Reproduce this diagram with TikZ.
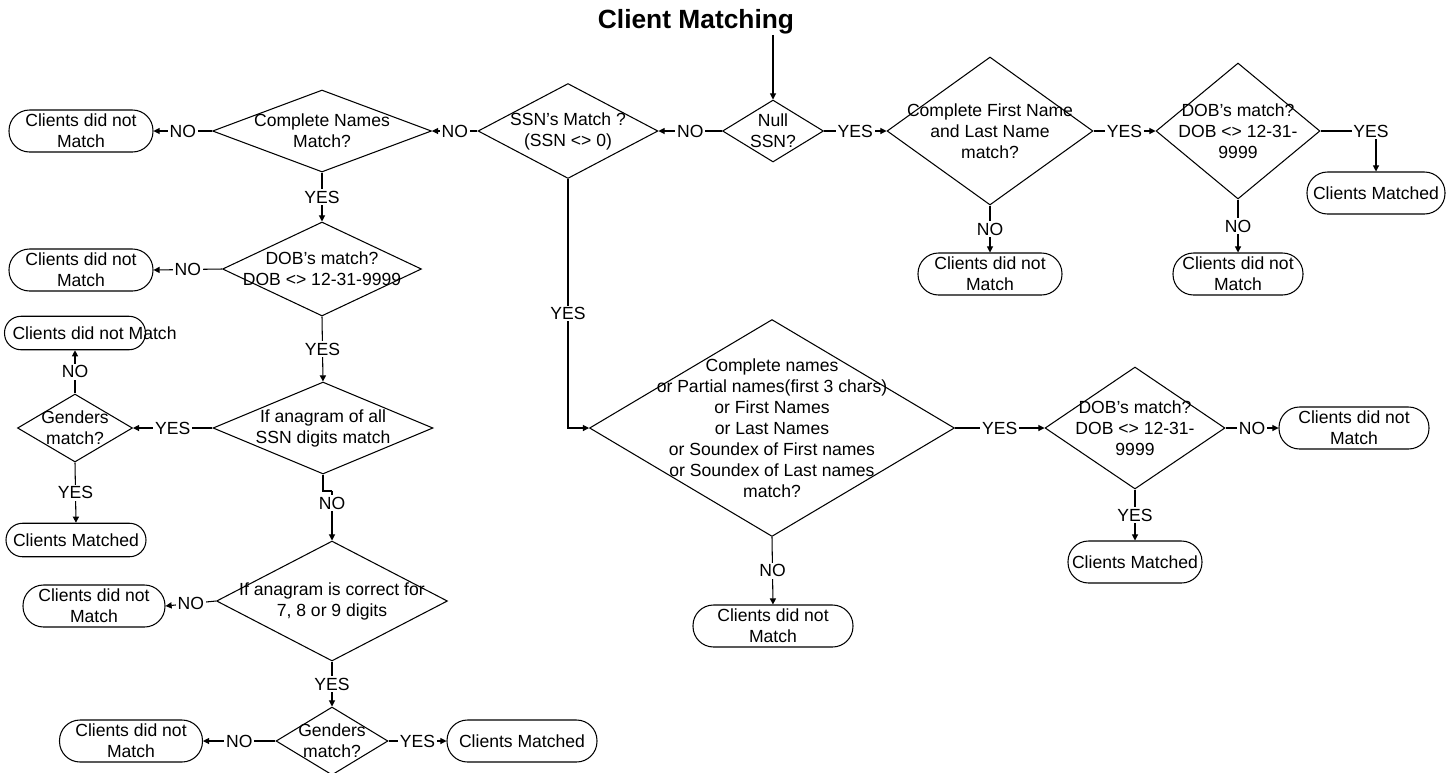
\documentclass[tikz,border=0pt]{standalone}
\usepackage{fontspec}
\setmainfont{Liberation Sans}
\usetikzlibrary{shapes.geometric,arrows.meta}

\tikzset{
  decision/.style={diamond, draw, inner sep=-2cm, align=center},
  term/.style={rectangle, draw, rounded corners=0.41cm, minimum height=0.84cm, inner sep=-2cm, align=center},
  termsm/.style={term, rounded corners=0.33cm, minimum height=0.67cm},
  lbl/.style={fill=white, inner sep=1pt},
  arr/.style={-{Triangle[length=3.5pt,width=3.5pt]}}
}

\begin{document}
\begin{tikzpicture}[x=0.02cm, y=-0.02cm, line width=0.6pt, font=\fontsize{10}{11.9}\selectfont]
\useasboundingbox (0,0) rectangle (1455,772);

\node[font=\fontsize{15}{18}\selectfont\bfseries, inner sep=0pt] (title) at (696,22) {Client Matching};

% top row
\node[decision, minimum width=2.02cm, minimum height=1.24cm] (null) at (773,131) {Null\\SSN?};
\node[decision, minimum width=3.6cm, minimum height=1.9cm] (ssn) at (568,131) {SSN's Match ?\\(SSN <> 0)};
\node[decision, minimum width=4.38cm, minimum height=1.64cm] (cn) at (322,131) {Complete Names\\Match?};
\node[term, minimum width=2.88cm] (nm1) at (81,131) {Clients did not\\Match};
\node[decision, minimum width=4.12cm, minimum height=2.96cm] (cfl) at (990,131) {Complete First Name\\and Last Name\\match?};
\node[decision, minimum width=3.28cm, minimum height=2.72cm] (dob1) at (1238,131) {DOB's match?\\DOB <> 12-31-\\9999};
\node[term, minimum width=2.88cm] (nm7) at (990,274) {Clients did not\\Match};
\node[term, minimum width=2.6cm] (nm8) at (1238,274) {Clients did not\\Match};
\node[term, minimum width=2.76cm] (cm3) at (1376,193) {Clients Matched};

% left column
\node[decision, minimum width=3.98cm, minimum height=1.88cm] (dob2) at (322,269) {DOB's match?\\DOB <> 12-31-9999};
\node[term, minimum width=2.88cm] (nm2) at (81,270) {Clients did not\\Match};
\node[decision, minimum width=4.4cm, minimum height=1.84cm] (ana1) at (323,428) {If anagram of all\\SSN digits match};
\node[decision, minimum width=2.3cm, minimum height=1.36cm] (gen1) at (75,428) {Genders\\match?};
\node[termsm, minimum width=2.82cm, label={[inner sep=0pt, anchor=west, xshift=0.16cm]west:Clients did not Match}] (nm3) at (75,333) {};
\node[termsm, minimum width=2.8cm] (cm1) at (76,540) {Clients Matched};
\coordinate (jog) at (332,491);
\node[decision, minimum width=4.62cm, minimum height=2.4cm] (ana2) at (332,601) {If anagram is correct for\\7, 8 or 9 digits};
\node[term, minimum width=2.84cm] (nm4) at (94,606) {Clients did not\\Match};
\node[decision, minimum width=2.24cm, minimum height=1.36cm] (gen2) at (332,741) {Genders\\match?};
\node[term, minimum width=2.86cm] (nm5) at (131,741) {Clients did not\\Match};
\node[term, minimum width=3cm] (cm2) at (522,741) {Clients Matched};

% middle and right
\node[decision, minimum width=7.3cm, minimum height=4.34cm] (big) at (772,428) {Complete names\\or Partial names(first 3 chars)\\or First Names\\or Last Names\\or Soundex of First names\\or Soundex of Last names\\match?};
\node[term, minimum width=3.2cm] (nm6) at (773,626) {Clients did not\\Match};
\node[decision, minimum width=3.6cm, minimum height=2.44cm] (dob3) at (1135,428) {DOB's match?\\DOB <> 12-31-\\9999};
\node[term, minimum width=3cm] (nm9) at (1354,428) {Clients did not\\Match};
\node[term, minimum width=2.68cm] (cm4) at (1135,562) {Clients Matched};

\draw[arr] (title.south -| null.north) -- (null.north);
\draw[arr] (null.west) -- node[lbl]{NO} (ssn.east);
\draw[arr] (null.east) -- node[lbl]{YES} (cfl.west);
\draw[arr] (ssn.west) -- node[lbl]{NO} (cn.east);
\draw[arr] (cn.west) -- node[lbl]{NO} (nm1.east);
\draw[arr] (cn.south) -- node[lbl]{YES} (dob2.north);
\draw[arr] (dob2.west) -- node[lbl]{NO} (nm2.east);
\draw[arr] (dob2.south) -- node[lbl]{YES} (ana1.north);
\draw[arr] (ana1.west) -- node[lbl]{YES} (gen1.east);
\draw[arr] (gen1.north) -- node[lbl]{NO} (nm3.south);
\draw[arr] (gen1.south) -- node[lbl]{YES} (cm1.north);
\draw (ana1.south) |- (jog);
\draw[arr] (jog) -- node[lbl, pos=0.25]{NO} (ana2.north);
\draw[arr] (ana2.west) -- node[lbl]{NO} (nm4.east);
\draw[arr] (ana2.south) -- node[lbl]{YES} (gen2.north);
\draw[arr] (gen2.west) -- node[lbl]{NO} (nm5.east);
\draw[arr] (gen2.east) -- node[lbl]{YES} (cm2.west);
\draw[arr] (ssn.south) |- node[lbl, pos=0.27]{YES} (big.west);
\draw[arr] (big.east) -- node[lbl]{YES} (dob3.west);
\draw[arr] (big.south) -- node[lbl]{NO} (nm6.north);
\draw[arr] (dob3.east) -- node[lbl]{NO} (nm9.west);
\draw[arr] (dob3.south) -- node[lbl]{YES} (cm4.north);
\draw[arr] (cfl.east) -- node[lbl]{YES} (dob1.west);
\draw[arr] (cfl.south) -- node[lbl]{NO} (nm7.north);
\draw[arr] (dob1.south) -- node[lbl]{NO} (nm8.north);
\draw[arr] (dob1.east) -| node[lbl, pos=0.5, xshift=-0.1cm]{YES} (cm3.north);
\end{tikzpicture}
\end{document}
